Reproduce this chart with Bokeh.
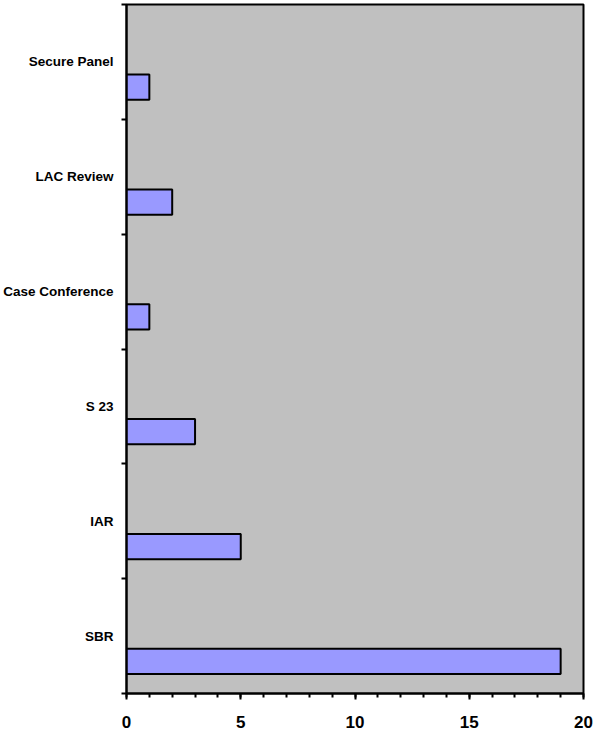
from bokeh.plotting import figure
from bokeh.models import ColumnDataSource, FixedTicker, SingleIntervalTicker, Range1d
from bokeh.embed import file_html
from bokeh.resources import INLINE

# Data (bottom to top)
categories = ["SBR", "IAR", "S 23", "Case Conference", "LAC Review", "Secure Panel"]
values = [19, 5, 3, 1, 2, 1]

n = len(categories)
bar_pos = [i + 0.28 for i in range(n)]
src = ColumnDataSource(dict(y=bar_pos, right=values, cat=categories))

p = figure(width=593, height=733, output_backend="svg", toolbar_location=None,
           x_range=Range1d(0, 20), y_range=Range1d(0, n),
           min_border_left=124, min_border_right=10, min_border_top=4, min_border_bottom=40)

p.background_fill_color = "#C0C0C0"
p.border_fill_color = "white"
p.outline_line_color = "black"
p.outline_line_width = 2
p.xgrid.visible = False
p.ygrid.visible = False

p.hbar(y="y", left=0, right="right", height=0.22, source=src,
       fill_color="#9999FF", line_color="black", line_width=2)

# x axis
xa = p.xaxis[0]
xa.ticker = SingleIntervalTicker(interval=5, num_minor_ticks=5)
xa.axis_line_width = 2
xa.axis_line_color = "black"
xa.major_tick_in = 0
xa.major_tick_out = 6
xa.major_tick_line_width = 2
xa.minor_tick_in = 0
xa.minor_tick_out = 4
xa.minor_tick_line_width = 2
xa.major_label_text_font = "Liberation Sans"
xa.major_label_text_font_style = "bold"
xa.major_label_text_font_size = "17px"
xa.major_label_text_color = "black"
xa.major_label_standoff = 16

# y axis: labels at category centers, ticks at boundaries
ya = p.yaxis[0]
centers = [i + 0.5 for i in range(n)]
ya.ticker = FixedTicker(ticks=centers, minor_ticks=list(range(n + 1)))
ya.major_label_overrides = {c: cat for c, cat in zip(centers, categories)}
ya.axis_line_width = 2
ya.axis_line_color = "black"
ya.major_tick_in = 0
ya.major_tick_out = 0
ya.minor_tick_in = 0
ya.minor_tick_out = 5
ya.minor_tick_line_width = 2
ya.major_label_text_font = "Liberation Sans"
ya.major_label_text_font_style = "bold"
ya.major_label_text_font_size = "13.5px"
ya.major_label_text_color = "black"
ya.major_label_standoff = 8

open("out.html", "w").write(file_html(p, INLINE))
